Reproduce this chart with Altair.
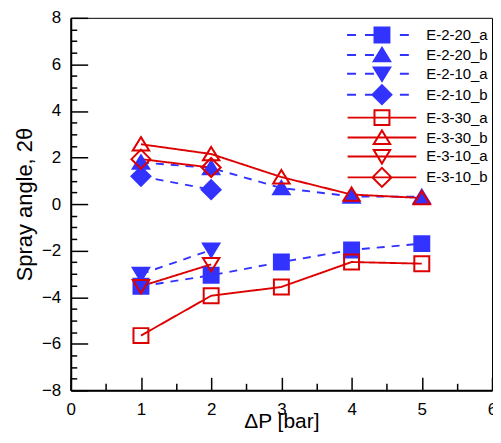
import altair as alt
import pandas as pd

# ---------------- data ----------------
series = ["E-2-20_a", "E-2-20_b", "E-2-10_a", "E-2-10_b",
          "E-3-30_a", "E-3-30_b", "E-3-10_a", "E-3-10_b"]

x_five = [1, 2, 3, 4, 5]
x_two = [1, 2]

y_e2_20_a = [-3.53, -3.06, -2.49, -1.97, -1.70]
y_e2_20_b = [1.79, 1.55, 0.69, 0.33, 0.31]
y_e2_10_a = [-3.01, -1.97]
y_e2_10_b = [1.19, 0.62]
y_e3_30_a = [-5.65, -3.94, -3.56, -2.49, -2.56]
y_e3_30_b = [2.57, 2.15, 1.16, 0.41, 0.26]
y_e3_10_a = [-3.53, -2.59]
y_e3_10_b = [1.93, 1.57]

x_ticks = [0, 1, 2, 3, 4, 5, 6]
y_ticks = [-8, -6, -4, -2, 0, 2, 4, 6, 8]
x_minor = [i * 0.5 for i in range(0, 13)]
y_minor = [-8 + i * 0.5 for i in range(0, 33)]

series_x = [x_five, x_five, x_two, x_two, x_five, x_five, x_two, x_two]
series_y = [y_e2_20_a, y_e2_20_b, y_e2_10_a, y_e2_10_b,
            y_e3_30_a, y_e3_30_b, y_e3_10_a, y_e3_10_b]

rows = []
for name, xs, ys in zip(series, series_x, series_y):
    for xv, yv in zip(xs, ys):
        rows.append({"series": name, "x": xv, "y": yv})
df = pd.DataFrame(rows)

# ---------------- styles ----------------
BLUE = "#3333ff"
RED = "#dd0000"
FONT = "Liberation Sans"
W, H = 423, 374

SQ = "M-1,-1H1V1H-1Z"
TU = "M0,-0.95L1.1,0.85H-1.1Z"
TD = "M0,0.95L1.1,-0.85H-1.1Z"
DM = "M0,-1.27L1.27,0L0,1.27L-1.27,0Z"
LDASH = "M-4.67,0H-3.47M-2.27,0H-1.07M2.4,0H3.6"
LSOLID = "M-4.6,0H4.6"

markers = [SQ, TU, TD, DM, SQ, TU, TD, DM]
legend_shapes = [LDASH + m for m in markers[:4]] + [LSOLID + m for m in markers[4:]]
line_colors = [BLUE] * 4 + [RED] * 4
fill_colors = [BLUE] * 4 + ["transparent"] * 4
dashes = [[8, 7]] * 4 + [[1, 0]] * 4

x_scale = alt.Scale(domain=[0, 6], nice=False, zero=False)
y_scale = alt.Scale(domain=[-8, 8], nice=False, zero=False)

# ---------------- layers ----------------
lines = alt.Chart(df).mark_line(strokeWidth=1.9).encode(
    x=alt.X("x:Q", scale=x_scale, axis=alt.Axis(
        orient="bottom", values=x_ticks, ticks=False, domainWidth=2,
        labelFontSize=17, labelPadding=11, labelFlush=False,
        title="ΔP [bar]", titleFontSize=21, titleFontWeight="normal",
        titleBaseline="alphabetic", titleY=37)),
    y=alt.Y("y:Q", scale=y_scale, axis=alt.Axis(
        orient="left", values=y_ticks, ticks=False, domainWidth=2,
        labelFontSize=17, labelPadding=10, labelFlush=False,
        title="Spray angle, 2θ", titleFontSize=22, titleFontWeight="normal",
        titlePadding=5)),
    color=alt.Color("series:N", scale=alt.Scale(domain=series, range=line_colors), legend=None),
    strokeDash=alt.StrokeDash("series:N", scale=alt.Scale(domain=series, range=dashes), legend=None),
)

points = alt.Chart(df).mark_point(size=225, opacity=1, strokeWidth=2).encode(
    x=alt.X("x:Q", scale=x_scale, axis=alt.Axis(
        orient="top", offset=-H, values=x_minor, labels=False, domain=False,
        title=None, tickWidth=1.5,
        tickSize={"condition": {"test": "datum.value % 1 === 0", "value": 13}, "value": 7})),
    y=alt.Y("y:Q", scale=y_scale, axis=alt.Axis(
        orient="right", offset=-W, values=y_minor, labels=False, domain=False,
        title=None, tickWidth=1.5,
        tickSize={"condition": {"test": "datum.value % 2 === 0", "value": 17}, "value": 6})),
    shape=alt.Shape("series:N", scale=alt.Scale(domain=series, range=markers), legend=None),
    fill=alt.Fill("series:N", scale=alt.Scale(domain=series, range=fill_colors), legend=None),
    stroke=alt.Stroke("series:N", scale=alt.Scale(domain=series, range=line_colors), legend=None),
)

leg = alt.Legend(orient="none", legendX=304, legendY=8.7, title=None, padding=0,
                 rowPadding=-5, symbolSize=225, symbolStrokeWidth=2, symbolOpacity=1,
                 labelOffset=36, labelFontSize=15, labelFont=FONT, labelColor="black",
                 direction="vertical")

legend_layer = alt.Chart(df).transform_filter("false").mark_point(
    size=225, opacity=1, strokeWidth=2).encode(
    x=alt.X("x:Q", scale=x_scale, axis=None),
    y=alt.Y("y:Q", scale=y_scale, axis=None),
    shape=alt.Shape("series:N", scale=alt.Scale(domain=series, range=legend_shapes), legend=leg),
    fill=alt.Fill("series:N", scale=alt.Scale(domain=series, range=fill_colors), legend=leg),
    stroke=alt.Stroke("series:N", scale=alt.Scale(domain=series, range=line_colors), legend=leg),
)

chart = alt.layer(lines, points, legend_layer).resolve_scale(
    shape="independent", fill="independent", stroke="independent"
).resolve_axis(x="independent", y="independent").properties(
    width=W, height=H,
    autosize=alt.AutoSizeParams(type="none"),
    padding={"left": 63, "top": 9, "right": 1, "bottom": 41},
).configure_axis(
    grid=False, labelFont=FONT, titleFont=FONT, labelColor="black", titleColor="black",
    tickColor="black", domainColor="black",
).configure_view(stroke="black", strokeWidth=1)

chart.save("out.html", embed_options={"renderer": "svg", "actions": False})
